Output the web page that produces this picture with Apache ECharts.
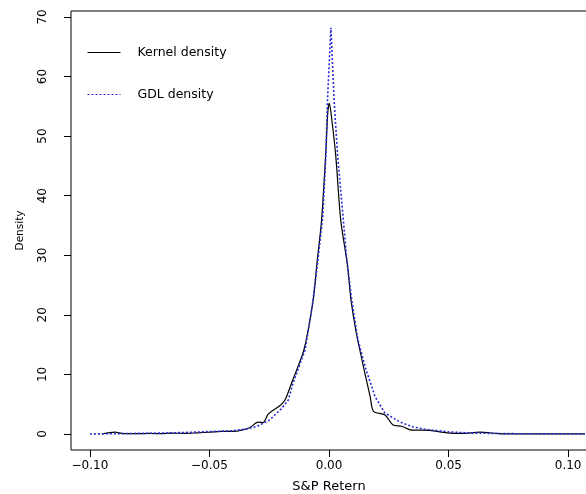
<!DOCTYPE html>
<html>
<head>
<meta charset="utf-8">
<title>S&amp;P return density</title>
<script src="https://cdn.jsdelivr.net/npm/echarts@6/dist/echarts.min.js"></script>
<style>
  html, body { margin: 0; padding: 0; background: #fff; }
  #chart { width: 586px; height: 494px; }
</style>
</head>
<body>
<div id="chart"></div>
<script>
// kernel density estimate (solid black)
const kernelX = [-0.095, -0.0895, -0.086, -0.080, -0.075, -0.070, -0.066, -0.060, -0.055, -0.050,
  -0.045, -0.040, -0.037, -0.033, -0.0297, -0.0276, -0.0255, -0.0234, -0.021, -0.0184,
  -0.0156, -0.0105, -0.0066, -0.0051, -0.0031, -0.0014, -0.0005, 0.0001, 0.0008, 0.0028,
  0.0049, 0.0077, 0.0092, 0.0113, 0.0144, 0.0172, 0.0186, 0.0234, 0.0268, 0.0304,
  0.0339, 0.038, 0.0423, 0.0494, 0.056, 0.063, 0.070, 0.073, 0.085, 0.107]
const kernelY = [0, 0.3, 0.05, 0.05, 0.1, 0.05, 0.15, 0.1, 0.2, 0.3,
  0.45, 0.45, 0.6, 1.1, 2.0, 1.9, 3.3, 4.0, 4.6, 5.7,
  8.6, 14.1, 22.5, 28.4, 35.9, 46.8, 54, 55.5, 54, 46.8,
  35.9, 28.4, 22.5, 17.2, 11.3, 6.3, 3.8, 3.2, 1.5, 1.3,
  0.7, 0.65, 0.6, 0.2, 0.1, 0.3, 0.1, 0, 0, 0]

// fitted GDL density (blue dotted)
const gdlX = [-0.100, -0.090, -0.080, -0.070, -0.060, -0.050, -0.040, -0.035, -0.030, -0.025,
  -0.020, -0.017, -0.015, -0.010, -0.007, -0.005, -0.0026, -0.0013, -0.0007, 0.0008,
  0.0022, 0.0036, 0.006, 0.0075, 0.0095, 0.012, 0.0151, 0.0192, 0.0234, 0.0297,
  0.035, 0.040, 0.050, 0.060, 0.070, 0.080, 0.090, 0.100, 0.107]
const gdlY = [0, 0.05, 0.1, 0.15, 0.25, 0.4, 0.55, 0.8, 1.3, 2.3,
  4.2, 5.7, 8.6, 14.1, 21.5, 28, 36.5, 46.8, 55.5, 68.2,
  55.5, 46.8, 35.9, 29, 22.5, 16, 11.3, 6.3, 3.5, 2.0,
  1.2, 0.8, 0.35, 0.15, 0.08, 0.04, 0.02, 0.01, 0]

const xTicks = [-0.10, -0.05, 0.00, 0.05, 0.10]
const yTicks = [0, 10, 20, 30, 40, 50, 60, 70]

const font = "DejaVu Sans"
const pairs = (xs, ys) => xs.map((x, i) => [x, ys[i]])

const chart = echarts.init(document.getElementById("chart"))

chart.setOption({
  animation: false,
  backgroundColor: "#fff",
  textStyle: { fontFamily: font, color: "#000" },
  grid: {
    left: 71,
    top: 11,
    width: 516,
    height: 439,
    containLabel: false,
    outerBoundsMode: "none",
    show: true,
    borderColor: "#000",
    borderWidth: 1,
  },
  legend: {
    orient: "vertical",
    left: 87,
    top: 46,
    padding: 0,
    itemWidth: 33,
    itemHeight: 14,
    itemGap: 29,
    itemStyle: { opacity: 0 },
    lineStyle: { width: 1 },
    textStyle: { fontFamily: font, fontSize: 12.5, color: "#000", padding: [0, 0, 0, 12] },
    data: ["Kernel density", "GDL density"],
  },
  xAxis: {
    type: "value",
    min: -0.1079,
    max: 0.1079,
    name: "S&P Retern",
    nameLocation: "middle",
    nameGap: 30,
    nameTextStyle: { fontFamily: font, fontSize: 13, color: "#000" },
    axisLine: { show: false, onZero: false },
    splitLine: { show: false },
    axisTick: {
      show: true,
      inside: false,
      length: 7,
      lineStyle: { color: "#000" },
      customValues: xTicks,
    },
    axisLabel: {
      margin: 10,
      fontFamily: font,
      fontSize: 12,
      color: "#000",
      customValues: xTicks,
      formatter: (v) => v.toFixed(2).replace("-", "\u2212"),
    },
  },
  yAxis: {
    type: "value",
    min: -2.69,
    max: 71.0,
    name: "Density",
    nameLocation: "middle",
    nameRotate: 90,
    nameGap: 45,
    nameTextStyle: { fontFamily: font, fontSize: 10.5, color: "#000" },
    axisLine: { show: false, onZero: false },
    splitLine: { show: false },
    axisTick: {
      show: true,
      inside: false,
      length: 7,
      lineStyle: { color: "#000" },
      customValues: yTicks,
    },
    axisLabel: {
      rotate: 90,
      margin: 22,
      fontFamily: font,
      fontSize: 12,
      color: "#000",
      customValues: yTicks,
    },
  },
  series: [
    {
      name: "Kernel density",
      type: "line",
      data: pairs(kernelX, kernelY),
      symbol: "none",
      smooth: 0.25,
      color: "#000",
      lineStyle: { color: "#000", width: 1.2 },
      z: 2,
    },
    {
      name: "GDL density",
      type: "line",
      data: pairs(gdlX, gdlY),
      symbol: "none",
      smooth: false,
      color: "#2a2ad8",
      lineStyle: { color: "#2a2ad8", width: 1.6, type: [2, 2] },
      z: 3,
    },
  ],
})
</script>
</body>
</html>
